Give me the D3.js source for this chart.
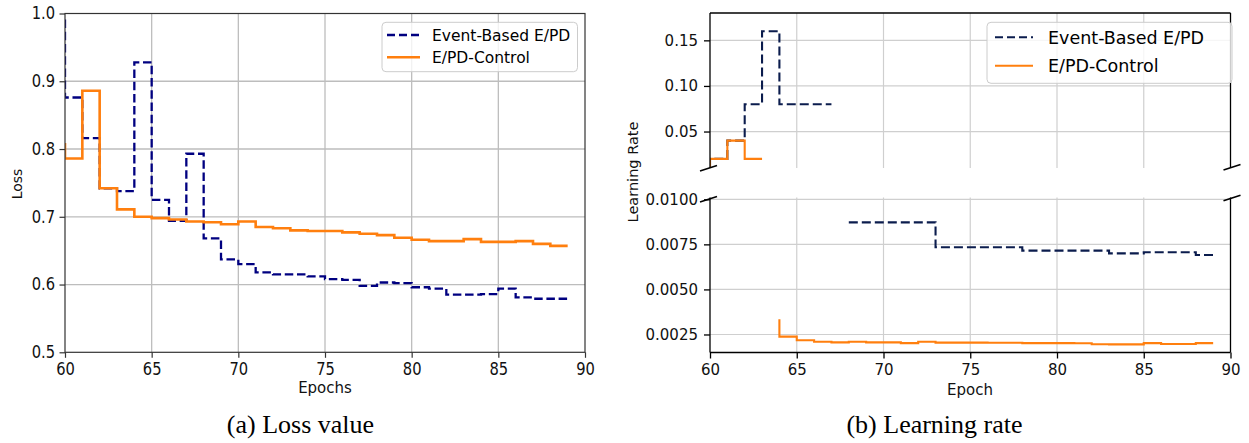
<!DOCTYPE html>
<html><head><meta charset="utf-8">
<script src="https://cdn.jsdelivr.net/npm/d3@7"></script>
<style>html,body{margin:0;padding:0;background:#fff;} svg{display:block;} text{font-family:"DejaVu Sans",sans-serif;} text.cap{font-family:"Liberation Serif","Times New Roman",Times,serif;}</style>
</head><body><svg id="c" width="1249" height="443"></svg>
<script>
// ---------- data ----------
const epochs = [60,61,62,63,64,65,66,67,68,69,70,71,72,73,74,75,76,77,78,79,80,81,82,83,84,85,86,87,88,89];
const lossEvent = [0.991,0.876,0.816,0.742,0.738,0.928,0.725,0.694,0.793,0.668,0.637,0.630,0.618,0.615,0.615,0.612,0.608,0.607,0.598,0.603,0.602,0.596,0.594,0.585,0.585,0.586,0.594,0.581,0.579,0.579];
const lossControl = [0.809,0.786,0.886,0.742,0.711,0.700,0.698,0.696,0.693,0.692,0.689,0.693,0.685,0.683,0.680,0.679,0.679,0.677,0.675,0.673,0.669,0.666,0.664,0.664,0.667,0.663,0.663,0.664,0.660,0.657];

const lrEventHighEpochs = [60,61,62,63,64,65,66,67];
const lrEventHigh = [0.0105,0.02,0.04,0.08,0.16,0.08,0.08,0.08];
const lrEventLowEpochs = [68,69,70,71,72,73,74,75,76,77,78,79,80,81,82,83,84,85,86,87,88,89];
const lrEventLow = [0.00872,0.00872,0.00872,0.00872,0.00872,0.00872,0.00734,0.00734,0.00734,0.00734,0.00734,0.00715,0.00715,0.00715,0.00715,0.00715,0.00700,0.00700,0.00706,0.00706,0.00706,0.00691];
const lrControlHighEpochs = [60,61,62,63];
const lrControlHigh = [0.0105,0.02,0.04,0.02];
const lrControlLowEpochs = [64,65,66,67,68,69,70,71,72,73,74,75,76,77,78,79,80,81,82,83,84,85,86,87,88,89];
const lrControlLow = [0.00334,0.00238,0.00218,0.00210,0.00206,0.00210,0.00206,0.00206,0.00202,0.00210,0.00205,0.00205,0.00205,0.00204,0.00204,0.00202,0.00202,0.00202,0.00201,0.00196,0.00195,0.00195,0.00202,0.00197,0.00197,0.00202];

const xTicks = [60,65,70,75,80,85,90];
const lossTicks = [0.5,0.6,0.7,0.8,0.9,1.0];
const lrHighTicks = [0.05,0.10,0.15];
const lrLowTicks = [0.0025,0.0050,0.0075,0.0100];
const seriesNames = ["Event-Based E/PD","E/PD-Control"];
const captions = ["(a) Loss value","(b) Learning rate"];

// ---------- drawing ----------
const svg = d3.select("#c");
svg.append("rect").attr("width",1249).attr("height",443).attr("fill","#fff");
const defs = svg.append("defs");
function clip(id,x0,y0,x1,y1){
  defs.append("clipPath").attr("id",id).append("rect").attr("x",x0).attr("y",y0).attr("width",x1-x0).attr("height",y1-y0);
  return `url(#${id})`;
}
function stepLine(g, xs, ys, xS, yS, color, w, dash, clipUrl){
  const ln = d3.line().x((d,i)=>xS(xs[i])).y(d=>yS(d)).curve(d3.curveStepBefore);
  g.append("path").attr("d",ln(ys)).attr("fill","none").attr("stroke",color)
   .attr("stroke-width",w).attr("stroke-dasharray",dash||null).attr("clip-path",clipUrl)
   .attr("stroke-linejoin","miter");
}
function legend(g, x0,y0,x1,y1, rows, fs, colors, widths, dashes, lx0, lx1, tx){
  g.append("rect").attr("x",x0).attr("y",y0).attr("width",x1-x0).attr("height",y1-y0)
   .attr("rx",4).attr("fill","#fff").attr("fill-opacity",0.8).attr("stroke","#cccccc").attr("stroke-width",1);
  rows.forEach((cy,i)=>{
    g.append("line").attr("x1",lx0).attr("x2",lx1).attr("y1",cy).attr("y2",cy)
      .attr("stroke",colors[i]).attr("stroke-width",widths[i]).attr("stroke-dasharray",dashes[i]||null);
    g.append("text").attr("x",tx).attr("y",cy+fs*0.365).attr("font-size",fs+"px").attr("fill","#000").text(seriesNames[i]);
  });
}

// ===== LEFT: loss =====
const xL = d3.scaleLinear().domain([60,90]).range([65,585]);
const yL = d3.scaleLinear().domain([0.5,1.0]).range([352.3,13.5]);
const gL = svg.append("g");
const gridL = "#bdbdbd";
gL.append("g").selectAll("line").data(xTicks.slice(1,-1)).join("line")
  .attr("x1",d=>xL(d)).attr("x2",d=>xL(d)).attr("y1",yL(0.5)).attr("y2",yL(1.0))
  .attr("stroke",gridL).attr("stroke-width",1.3);
gL.append("g").selectAll("line").data(lossTicks.slice(1,-1)).join("line")
  .attr("x1",xL(60)).attr("x2",xL(90)).attr("y1",d=>yL(d)).attr("y2",d=>yL(d))
  .attr("stroke",gridL).attr("stroke-width",1.3);
const clipL = clip("clipL",xL(60),yL(1.0),xL(90),yL(0.5));
const blueL = "#000080", orange = "#ff7f0e";
stepLine(gL, epochs, lossEvent, xL, yL, blueL, 2.3, "8.5,3.7", clipL);
stepLine(gL, epochs, lossControl, xL, yL, orange, 2.6, null, clipL);
gL.append("rect").attr("x",xL(60)).attr("y",yL(1.0)).attr("width",xL(90)-xL(60)).attr("height",yL(0.5)-yL(1.0))
  .attr("fill","none").attr("stroke","#333").attr("stroke-width",1.2);
const axLx = gL.append("g").attr("transform",`translate(0,${yL(0.5)})`)
  .call(d3.axisBottom(xL).tickValues(xTicks).tickSize(5.5).tickSizeOuter(0).tickPadding(3.5).tickFormat(d3.format("d")));
const axLy = gL.append("g").attr("transform",`translate(${xL(60)},0)`)
  .call(d3.axisLeft(yL).tickValues(lossTicks).tickSize(5.5).tickSizeOuter(0).tickPadding(4.5).tickFormat(d3.format(".1f")));
[axLx,axLy].forEach(a=>{
  a.select(".domain").remove();
  a.selectAll(".tick line").attr("stroke","#333").attr("stroke-width",1.2);
  a.selectAll("text").attr("font-size","14.7px").attr("fill","#111").attr("transform","scale(1,1.15)");
});
gL.append("text").attr("transform","translate(21.5,184) rotate(-90)").attr("text-anchor","middle")
  .attr("font-size","14px").attr("fill","#111").text("Loss");
gL.append("text").attr("x",325).attr("y",393).attr("text-anchor","middle").attr("font-size","15px").attr("fill","#111").text("Epochs");
legend(gL, 382,22.3,577.5,71.7, [35,57.3], 15.5, [blueL,orange],[2.3,2.6],["8,4",null], 387,420,432);

// ===== RIGHT: learning rate (broken axis) =====
const xR = d3.scaleLinear().domain([60,90]).range([710,1230.5]);
const yU = d3.scaleLinear().domain([0.01,0.18]).range([168,13]);
const yD = d3.scaleLinear().domain([0.0015,0.0101]).range([352.5,197.5]);
const gR = svg.append("g");
const gridR = "#cfcfcf";
[[yU,lrHighTicks,13,168],[yD,lrLowTicks,197.5,352.5]].forEach(([ys,ticks,top,bot])=>{
  gR.append("g").selectAll("line").data(xTicks.slice(1,-1)).join("line")
    .attr("x1",d=>xR(d)).attr("x2",d=>xR(d)).attr("y1",top).attr("y2",bot)
    .attr("stroke",gridR).attr("stroke-width",1.2);
  gR.append("g").selectAll("line").data(ticks).join("line")
    .attr("x1",xR(60)).attr("x2",xR(90)).attr("y1",d=>ys(d)).attr("y2",d=>ys(d))
    .attr("stroke",gridR).attr("stroke-width",1.2);
});
const clipU = clip("clipU",xR(60),13,xR(90),168);
const clipD = clip("clipD",xR(60),197.5,xR(90),352.5);
const blueR = "#0b1c4d";
stepLine(gR, lrEventHighEpochs, lrEventHigh, xR, yU, blueR, 2.1, "9,4", clipU);
stepLine(gR, lrControlHighEpochs, lrControlHigh, xR, yU, orange, 2.1, null, clipU);
stepLine(gR, lrEventLowEpochs, lrEventLow, xR, yD, blueR, 2.1, "9,4", clipD);
stepLine(gR, lrControlLowEpochs, lrControlLow, xR, yD, orange, 2.1, null, clipD);
// spines
const sp = (x1,y1,x2,y2)=>gR.append("line").attr("x1",x1).attr("y1",y1).attr("x2",x2).attr("y2",y2).attr("stroke","#000").attr("stroke-width",1.3);
sp(xR(60),13,xR(90),13); sp(xR(60),13,xR(60),168); sp(xR(90),13,xR(90),168);
sp(xR(60),197.5,xR(60),352.5); sp(xR(90),197.5,xR(90),352.5); sp(xR(60),352.5,xR(90),352.5);
// break marks
[[xR(60)-1.5,168.3],[xR(90)+1.5,167.2],[xR(60)-1.5,199.2],[xR(90)+1.5,198]].forEach(([cx,cy])=>{
  gR.append("line").attr("x1",cx-8.5).attr("y1",cy+2.7).attr("x2",cx+8.5).attr("y2",cy-2.7).attr("stroke","#000").attr("stroke-width",1.6);
});
const axRx = gR.append("g").attr("transform",`translate(0,352.5)`)
  .call(d3.axisBottom(xR).tickValues(xTicks).tickSize(6).tickSizeOuter(0).tickPadding(5.5).tickFormat(d3.format("d")));
const axRu = gR.append("g").attr("transform",`translate(${xR(60)},0)`)
  .call(d3.axisLeft(yU).tickValues(lrHighTicks).tickSize(6).tickSizeOuter(0).tickPadding(6).tickFormat(d3.format(".2f")));
const axRd = gR.append("g").attr("transform",`translate(${xR(60)},0)`)
  .call(d3.axisLeft(yD).tickValues(lrLowTicks).tickSize(6).tickSizeOuter(0).tickPadding(6).tickFormat(d3.format(".4f")));
[axRx,axRu,axRd].forEach(a=>{
  a.select(".domain").remove();
  a.selectAll(".tick line").attr("stroke","#000").attr("stroke-width",1.3);
  a.selectAll("text").attr("font-size","15px").attr("fill","#111");
});
gR.append("text").attr("transform","translate(638,172) rotate(-90)").attr("text-anchor","middle")
  .attr("font-size","14.5px").attr("fill","#111").text("Learning Rate");
gR.append("text").attr("x",970).attr("y",395).attr("text-anchor","middle").attr("font-size","15px").attr("fill","#111").text("Epoch");
legend(gR, 987,22.3,1232,83.3, [37.3,65.7], 17.5, [blueR,orange],[2.1,2.1],["8,4",null], 995,1033,1048);

// ===== captions =====
[300.5,934.5].forEach((cx,i)=>{
  svg.append("text").attr("class","cap").attr("x",cx).attr("y",433).attr("text-anchor","middle")
    .attr("font-size","26px").attr("fill","#000").text(captions[i]);
});
</script></body></html>
